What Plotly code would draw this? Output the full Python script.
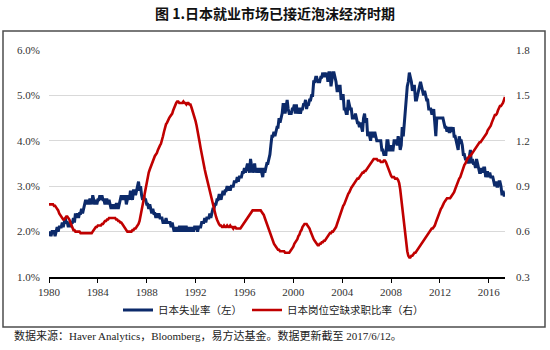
import pandas as pd
import plotly.graph_objects as go

# Japan unemployment rate, % (monthly, one row per year, 1980 -> 2017)
unemployment_rate = [
    [1.9, 2.0, 1.9, 2.0, 2.0, 2.0, 1.9, 2.0, 2.1, 2.0, 2.1, 2.1],  # 1980
    [2.1, 2.2, 2.1, 2.2, 2.3, 2.2, 2.2, 2.1, 2.2, 2.1, 2.2, 2.2],
    [2.3, 2.2, 2.4, 2.3, 2.4, 2.3, 2.4, 2.4, 2.5, 2.4, 2.5, 2.6],
    [2.7, 2.6, 2.7, 2.6, 2.7, 2.7, 2.6, 2.8, 2.7, 2.6, 2.7, 2.6],
    [2.7, 2.7, 2.8, 2.7, 2.8, 2.7, 2.7, 2.6, 2.7, 2.7, 2.6, 2.7],
    [2.6, 2.5, 2.6, 2.5, 2.6, 2.5, 2.6, 2.6, 2.5, 2.6, 2.7, 2.8],  # 1985
    [2.7, 2.8, 2.7, 2.8, 2.6, 2.7, 2.8, 2.7, 2.9, 2.8, 2.7, 2.9],
    [2.9, 2.8, 2.9, 3.0, 3.1, 2.9, 3.0, 2.8, 2.7, 2.8, 2.7, 2.7],
    [2.6, 2.6, 2.5, 2.6, 2.5, 2.4, 2.5, 2.4, 2.4, 2.3, 2.4, 2.3],
    [2.4, 2.3, 2.3, 2.3, 2.2, 2.2, 2.2, 2.3, 2.2, 2.2, 2.2, 2.2],
    [2.1, 2.2, 2.1, 2.0, 2.1, 2.0, 2.1, 2.0, 2.1, 2.1, 2.0, 2.1],  # 1990
    [2.1, 2.0, 2.1, 2.1, 2.0, 2.1, 2.0, 2.1, 2.0, 2.1, 2.0, 2.1],
    [2.1, 2.1, 2.0, 2.1, 2.1, 2.1, 2.2, 2.2, 2.2, 2.3, 2.2, 2.3],
    [2.3, 2.3, 2.4, 2.3, 2.4, 2.5, 2.5, 2.6, 2.6, 2.7, 2.7, 2.8],
    [2.8, 2.7, 2.8, 2.9, 2.8, 2.9, 2.9, 3.0, 2.9, 3.0, 2.9, 3.0],
    [3.0, 3.0, 3.1, 3.1, 3.1, 3.2, 3.1, 3.2, 3.2, 3.2, 3.3, 3.3],  # 1995
    [3.4, 3.3, 3.4, 3.5, 3.4, 3.3, 3.6, 3.4, 3.3, 3.4, 3.5, 3.3],
    [3.4, 3.3, 3.4, 3.3, 3.4, 3.3, 3.2, 3.4, 3.3, 3.4, 3.5, 3.5],
    [3.6, 3.7, 3.9, 4.1, 4.1, 4.2, 4.1, 4.2, 4.3, 4.3, 4.5, 4.4],
    [4.5, 4.6, 4.8, 4.8, 4.6, 4.8, 4.9, 4.7, 4.6, 4.6, 4.6, 4.7],
    [4.7, 4.8, 4.6, 4.8, 4.6, 4.7, 4.7, 4.6, 4.7, 4.7, 4.8, 4.8],  # 2000
    [4.9, 4.7, 4.8, 4.8, 4.9, 4.9, 5.0, 5.0, 5.3, 5.3, 5.4, 5.4],
    [5.3, 5.3, 5.3, 5.4, 5.4, 5.5, 5.4, 5.5, 5.4, 5.5, 5.3, 5.5],
    [5.5, 5.2, 5.4, 5.5, 5.5, 5.4, 5.3, 5.1, 5.1, 5.2, 5.2, 4.9],
    [5.0, 5.0, 4.7, 4.7, 4.6, 4.6, 4.9, 4.8, 4.7, 4.7, 4.5, 4.5],
    [4.5, 4.6, 4.5, 4.4, 4.4, 4.3, 4.4, 4.3, 4.2, 4.5, 4.6, 4.4],  # 2005
    [4.5, 4.1, 4.2, 4.1, 4.0, 4.2, 4.1, 4.1, 4.2, 4.1, 4.0, 4.0],
    [4.0, 4.0, 4.0, 3.8, 3.8, 3.7, 3.7, 3.7, 4.0, 4.0, 3.8, 3.8],
    [3.9, 3.8, 3.8, 4.0, 4.0, 4.0, 3.9, 4.1, 4.0, 3.8, 3.9, 4.3],
    [4.1, 4.4, 4.8, 5.0, 5.2, 5.3, 5.5, 5.4, 5.3, 5.1, 5.2, 5.2],
    [4.9, 4.9, 5.0, 5.1, 5.2, 5.3, 5.2, 5.1, 5.0, 5.1, 5.0, 4.9],  # 2010
    [4.9, 4.7, 4.7, 4.7, 4.6, 4.6, 4.7, 4.3, 4.1, 4.5, 4.5, 4.5],
    [4.5, 4.5, 4.5, 4.5, 4.4, 4.3, 4.3, 4.2, 4.3, 4.2, 4.2, 4.3],
    [4.2, 4.3, 4.1, 4.1, 4.0, 3.9, 3.8, 4.1, 4.0, 4.0, 3.9, 3.7],
    [3.7, 3.6, 3.6, 3.6, 3.5, 3.7, 3.8, 3.5, 3.6, 3.5, 3.5, 3.4],
    [3.6, 3.5, 3.4, 3.3, 3.3, 3.4, 3.3, 3.4, 3.4, 3.2, 3.3, 3.3],  # 2015
    [3.2, 3.3, 3.2, 3.2, 3.2, 3.1, 3.0, 3.1, 3.0, 3.0, 3.1, 3.1],
    [3.0, 2.8, 2.9, 2.8, 2.8],                                     # 2017
]

# Japan jobs-to-applicants ratio (monthly, one row per year, 1980 -> 2017)
jobs_to_applicants = [
    [0.78, 0.78, 0.78, 0.78, 0.78, 0.77, 0.77, 0.76, 0.75, 0.74, 0.72, 0.71],  # 1980
    [0.70, 0.69, 0.68, 0.68, 0.69, 0.70, 0.70, 0.69, 0.68, 0.66, 0.64, 0.63],
    [0.61, 0.61, 0.60, 0.60, 0.60, 0.60, 0.60, 0.59, 0.59, 0.59, 0.59, 0.59],
    [0.59, 0.59, 0.59, 0.59, 0.59, 0.59, 0.59, 0.60, 0.61, 0.62, 0.63, 0.63],
    [0.64, 0.64, 0.64, 0.64, 0.65, 0.65, 0.66, 0.67, 0.67, 0.68, 0.68, 0.69],
    [0.69, 0.69, 0.69, 0.69, 0.69, 0.69, 0.68, 0.68, 0.67, 0.67, 0.66, 0.66],  # 1985
    [0.65, 0.64, 0.63, 0.62, 0.61, 0.60, 0.60, 0.60, 0.60, 0.60, 0.61, 0.61],
    [0.62, 0.62, 0.63, 0.64, 0.65, 0.67, 0.70, 0.73, 0.77, 0.81, 0.85, 0.89],
    [0.93, 0.96, 0.99, 1.01, 1.03, 1.05, 1.07, 1.08, 1.10, 1.11, 1.12, 1.14],
    [1.16, 1.17, 1.18, 1.20, 1.23, 1.26, 1.29, 1.31, 1.32, 1.34, 1.35, 1.36],
    [1.37, 1.38, 1.40, 1.42, 1.44, 1.45, 1.46, 1.46, 1.45, 1.45, 1.45, 1.45],  # 1990
    [1.46, 1.45, 1.45, 1.44, 1.45, 1.45, 1.44, 1.44, 1.42, 1.40, 1.38, 1.36],
    [1.33, 1.30, 1.27, 1.23, 1.19, 1.15, 1.11, 1.07, 1.04, 1.01, 0.98, 0.95],
    [0.92, 0.89, 0.86, 0.83, 0.80, 0.77, 0.74, 0.72, 0.70, 0.68, 0.66, 0.65],
    [0.64, 0.64, 0.63, 0.63, 0.64, 0.63, 0.63, 0.64, 0.63, 0.63, 0.64, 0.63],
    [0.63, 0.62, 0.63, 0.63, 0.62, 0.62, 0.62, 0.62, 0.62, 0.63, 0.64, 0.65],  # 1995
    [0.66, 0.67, 0.68, 0.69, 0.70, 0.71, 0.72, 0.73, 0.74, 0.74, 0.74, 0.74],
    [0.74, 0.74, 0.74, 0.74, 0.74, 0.73, 0.72, 0.71, 0.69, 0.67, 0.65, 0.63],
    [0.61, 0.59, 0.57, 0.55, 0.53, 0.52, 0.51, 0.50, 0.49, 0.48, 0.48, 0.47],
    [0.47, 0.47, 0.47, 0.47, 0.46, 0.46, 0.46, 0.46, 0.46, 0.47, 0.48, 0.49],
    [0.50, 0.52, 0.53, 0.54, 0.55, 0.57, 0.58, 0.60, 0.61, 0.63, 0.64, 0.65],  # 2000
    [0.65, 0.65, 0.64, 0.63, 0.62, 0.60, 0.58, 0.56, 0.55, 0.54, 0.53, 0.52],
    [0.51, 0.51, 0.52, 0.52, 0.53, 0.53, 0.54, 0.54, 0.55, 0.56, 0.57, 0.58],
    [0.59, 0.59, 0.60, 0.60, 0.61, 0.62, 0.63, 0.65, 0.67, 0.69, 0.72, 0.74],
    [0.75, 0.77, 0.78, 0.80, 0.82, 0.83, 0.85, 0.86, 0.88, 0.89, 0.90, 0.91],
    [0.92, 0.93, 0.94, 0.95, 0.95, 0.96, 0.97, 0.98, 0.99, 0.99, 1.00, 1.00],  # 2005
    [1.01, 1.02, 1.03, 1.04, 1.05, 1.06, 1.07, 1.08, 1.08, 1.08, 1.08, 1.07],
    [1.07, 1.07, 1.06, 1.06, 1.06, 1.07, 1.07, 1.06, 1.04, 1.02, 1.00, 0.98],
    [0.97, 0.96, 0.96, 0.96, 0.95, 0.95, 0.95, 0.94, 0.92, 0.88, 0.82, 0.76],
    [0.70, 0.63, 0.57, 0.52, 0.47, 0.44, 0.43, 0.43, 0.44, 0.44, 0.45, 0.46],
    [0.46, 0.47, 0.48, 0.49, 0.50, 0.51, 0.52, 0.53, 0.54, 0.55, 0.56, 0.57],  # 2010
    [0.58, 0.59, 0.60, 0.61, 0.62, 0.62, 0.63, 0.64, 0.66, 0.68, 0.70, 0.71],
    [0.73, 0.75, 0.76, 0.78, 0.79, 0.80, 0.81, 0.82, 0.82, 0.82, 0.82, 0.83],
    [0.84, 0.85, 0.86, 0.88, 0.90, 0.92, 0.94, 0.95, 0.96, 0.98, 1.00, 1.03],
    [1.04, 1.05, 1.07, 1.08, 1.09, 1.10, 1.10, 1.11, 1.12, 1.13, 1.14, 1.15],
    [1.16, 1.17, 1.18, 1.19, 1.19, 1.20, 1.21, 1.22, 1.23, 1.24, 1.25, 1.27],  # 2015
    [1.28, 1.29, 1.30, 1.32, 1.34, 1.36, 1.37, 1.37, 1.38, 1.40, 1.42, 1.43],
    [1.43, 1.44, 1.45, 1.47, 1.49],                                              # 2017
]

x_tick_years = [str(y) for y in range(1980, 2017, 4)]
left_ticks = [1.0, 2.0, 3.0, 4.0, 5.0, 6.0]
right_ticks = [0.3, 0.6, 0.9, 1.2, 1.5, 1.8]

title_text = "图 1.日本就业市场已接近泡沫经济时期"
series_names = ["日本失业率（左）", "日本岗位空缺求职比率（右）"]
source_text = "数据来源：Haver Analytics，Bloomberg，易方达基金。数据更新截至 2017/6/12。"

unemp = [v for row in unemployment_rate for v in row]
ratio = [v for row in jobs_to_applicants for v in row]
months = pd.date_range("1980-01-01", periods=len(unemp), freq="MS")

NAVY = "#0c2a6a"
RED = "#c00000"
FRAME = "#4d4d4d"
SERIF = "'Liberation Serif', 'Times New Roman', serif"
CJK = "'Noto Sans CJK SC', sans-serif"

# page size and the framed chart body (paper area) in pixels
W, H = 550, 350
FL, FR, FT, FB = 3, 545, 31, 327
PAW, PAH = FR - FL, FB - FT
# plot area in pixels
PL, PR, PT, PB = 49, 505, 50, 277


def px_x(p):
    return (p - FL) / PAW


def px_y(p):
    return (FB - p) / PAH


fig = go.Figure()

fig.add_trace(go.Scatter(x=months, y=unemp, name=series_names[0], mode="lines",
                         line=dict(color=NAVY, width=3), yaxis="y"))
fig.add_trace(go.Scatter(x=months, y=ratio, name=series_names[1], mode="lines",
                         line=dict(color=RED, width=2.6), yaxis="y2"))

fig.update_layout(
    width=W, height=H,
    margin=dict(l=FL, r=W - FR, t=FT, b=H - FB, autoexpand=False),
    paper_bgcolor="white", plot_bgcolor="white",
    showlegend=True,
    title=dict(text=title_text, x=0.5, xanchor="center", y=1 - 14 / H,
               yanchor="middle", yref="container",
               font=dict(family=CJK, size=14, color="#111111", weight="bold")),
    xaxis=dict(
        domain=[px_x(PL), px_x(PR)],
        type="date", range=["1980-01-01", "2017-05-01"],
        tickvals=[f"{y}-01-01" for y in x_tick_years], ticktext=x_tick_years,
        ticks="outside", ticklen=4, tickwidth=1.2, tickcolor="#000000",
        showline=True, linecolor="#000000", linewidth=1.5,
        showgrid=False, zeroline=False,
        tickfont=dict(family=SERIF, size=11, color="#333333"),
    ),
    yaxis=dict(
        domain=[px_y(PB), px_y(PT)],
        range=[1.0, 6.0], tickvals=left_ticks,
        ticktext=[f"{v:.1f}%" for v in left_ticks],
        showgrid=True, gridcolor="#d9d9d9", gridwidth=1,
        zeroline=False, showline=False, ticks="",
        ticklabelstandoff=8,
        tickfont=dict(family=SERIF, size=11, color="#333333"),
    ),
    yaxis2=dict(
        range=[0.3, 1.8], tickvals=right_ticks,
        ticktext=[f"{v:.1f}" for v in right_ticks],
        overlaying="y", side="right", anchor="x",
        showgrid=False, zeroline=False, showline=False, ticks="",
        ticklabelstandoff=10,
        tickfont=dict(family=SERIF, size=11, color="#333333"),
    ),
    legend=dict(orientation="h", x=px_x(273.5), xanchor="center", y=px_y(310),
                yanchor="middle", itemwidth=30,
                font=dict(family=CJK, size=10.5, color="#222222"),
                bgcolor="rgba(0,0,0,0)"),
    shapes=[
        # outer frame around the chart body
        dict(type="rect", xref="paper", yref="paper", x0=0, x1=1, y0=0, y1=1,
             line=dict(color=FRAME, width=1.5), fillcolor="rgba(0,0,0,0)",
             layer="above"),
    ],
)

fig.add_annotation(text=source_text, xref="paper", yref="paper",
                   x=px_x(12), y=px_y(335),
                   xanchor="left", yanchor="middle", showarrow=False,
                   font=dict(family="'Liberation Serif', 'Noto Sans CJK SC', serif",
                             size=11, color="#222222"))

fig.write_html("out.html")
